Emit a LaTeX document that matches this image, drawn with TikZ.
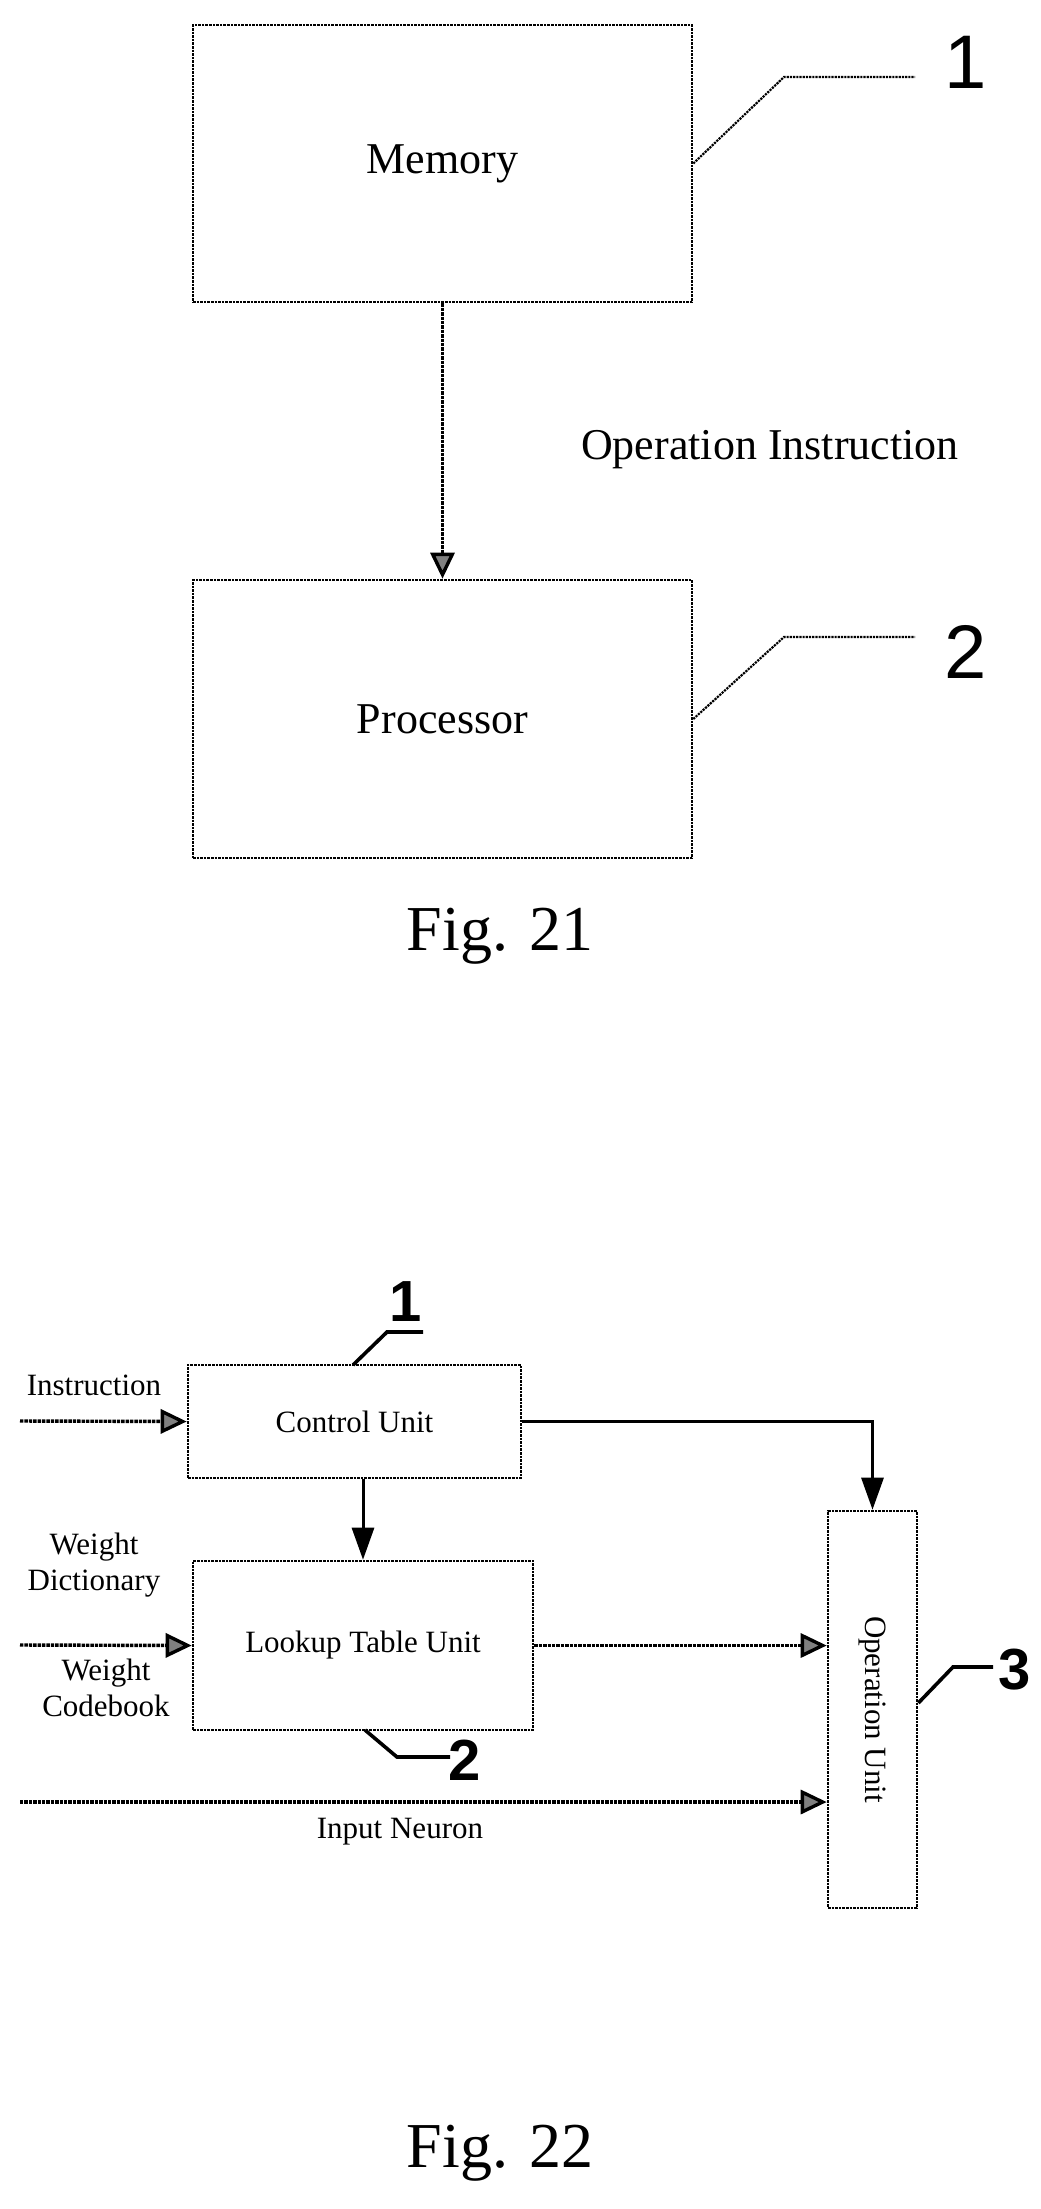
\documentclass[tikz,border=0pt]{standalone}
\usepackage{fontspec}
\setmainfont{Liberation Serif}
\newfontfamily\numfont{Liberation Sans}
\usetikzlibrary{arrows.meta,positioning}
\tikzset{
  dbox/.style={draw, densely dotted, line width=2.6pt, inner sep=0pt},
  darr/.style={densely dotted, line width=3.4pt, -{Triangle[length=26pt,width=24pt,fill=gray]}},
  sarr/.style={line width=3pt, -{Triangle[length=32pt,width=22pt]}},
  lead/.style={densely dotted, line width=2.2pt},
  blead/.style={line width=3.6pt},
  big/.style={font=\fontsize{44}{50}\selectfont},
  mid/.style={font=\fontsize{31}{36}\selectfont},
  fig/.style={font=\fontsize{64}{70}\selectfont},
  num/.style={font=\numfont\fontsize{76}{80}\selectfont},
  bnum/.style={font=\numfont\bfseries\fontsize{58}{62}\selectfont}
}
\begin{document}
\begin{tikzpicture}[x=1pt,y=-1pt]
\useasboundingbox (0,0) rectangle (1041,2209);
% Fig. 21
\node[dbox, minimum width=499pt, minimum height=277pt, big] (mem) at (442.5,163.5) {Memory};
\node[dbox, minimum width=499pt, minimum height=278pt, big] (proc) at (442.5,719) {Processor};
\draw[darr] (mem.south) -- (proc.north);
\node[big] (opins) at (770,450) {Operation Instruction};
\node[num] (n1) at (966,62) {1};
\node[num] (n2) at (966,652) {2};
\coordinate (k1) at (784,77);
\coordinate (k2) at (784,637);
\draw[lead] (mem.east) -- (k1) -- (915,77);
\draw[lead] (proc.east) -- (k2) -- (915,637);
\node[fig] (f21) at (500,936) {Fig. 21};
% Fig. 22
\node[dbox, minimum width=333pt, minimum height=113pt, mid] (ctrl) at (354.5,1421.5) {Control Unit};
\node[dbox, minimum width=340pt, minimum height=169pt, mid] (lut) at (363,1645.5) {Lookup Table Unit};
\node[dbox, minimum width=89pt, minimum height=397pt] (op) at (872.5,1709.5) {};
\node[mid, rotate=-90] (optxt) at (op.center) {Operation Unit};
\coordinate (in1) at (20,1421);
\coordinate (in2) at (20,1645);
\coordinate (in3) at (20,1802);
\coordinate (op3) at (op.west |- in3);
\draw[darr] (in1) -- (ctrl.west);
\draw[darr] (in2) -- (lut.west);
\draw[darr] (lut.east) -- (op.west |- lut.east);
\draw[darr] (in3) -- (op3);
\draw[sarr] (ctrl.south -| lut.north) -- (lut.north);
\draw[sarr] (ctrl.east) -| (op.north);
\node[mid] (linstr) at (94,1385) {Instruction};
\node[mid, align=center] (lwd) at (94,1565) {Weight\\Dictionary};
\node[mid, align=center] (lwc) at (106,1688) {Weight\\Codebook};
\node[mid] (lin) at (400,1832) {Input Neuron};
\draw[blead] (353,1365) -- (387,1332) -- (423,1332);
\node[bnum] (b1) at (406,1302) {1};
\draw[blead] (365,1730) -- (397,1757) -- (450,1757);
\node[bnum] (b2) at (465,1760) {2};
\draw[blead] (op.east |- 0,1703) -- (953,1667) -- (993,1667);
\node[bnum] (b3) at (1015,1670) {3};
\node[fig] (f22) at (500,2153) {Fig. 22};
\end{tikzpicture}
\end{document}
